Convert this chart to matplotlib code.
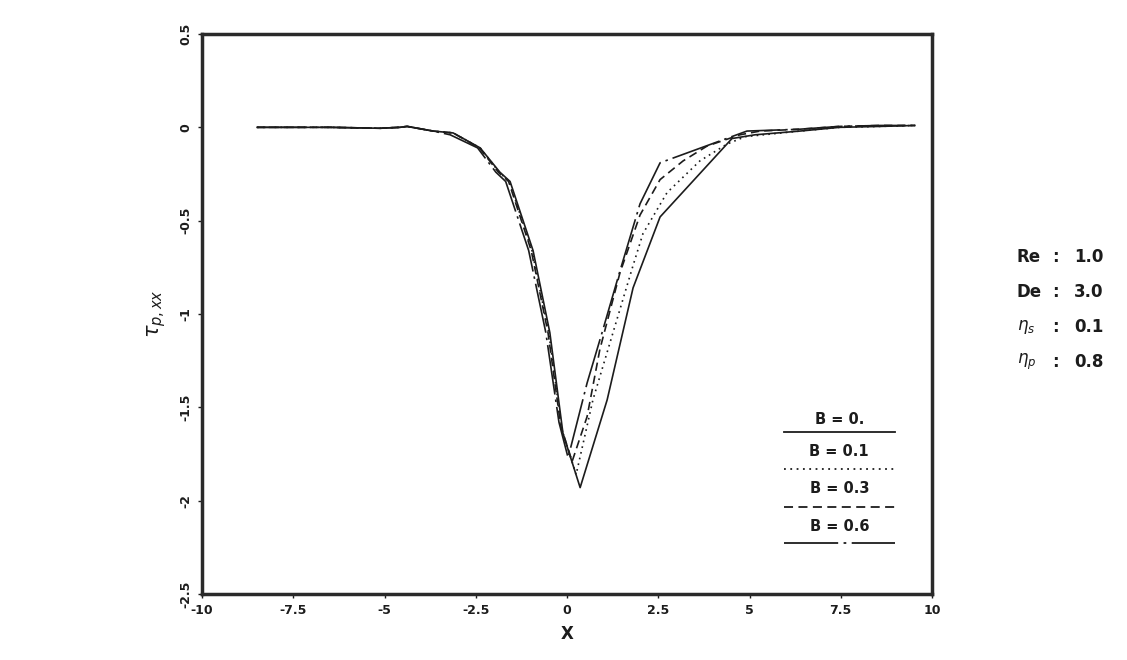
import matplotlib.pyplot as plt

plt.rcParams['font.family'] = ['DejaVu Sans']
plt.rcParams['axes.unicode_minus'] = False

# B = 0.
x_b0 = [-8.49, -6.49, -5.12, -4.58, -4.38, -3.67, -3.12, -2.38, -1.84, -1.56, -0.93, -0.47, -0.11,
        0.36, 1.10, 1.81, 2.55, 4.52, 5.15, 6.38, 7.47, 8.58, 9.53]
y_b0 = [0.0, 0.0, -0.005, 0.0, 0.005, -0.02, -0.03, -0.11, -0.24, -0.29, -0.66, -1.10, -1.64,
        -1.93, -1.46, -0.86, -0.48, -0.06, -0.04, -0.02, 0.0, 0.005, 0.01]

# B = 0.1
x_b1 = [-8.49, -6.49, -5.12, -4.58, -4.38, -3.67, -3.12, -2.38, -1.86, -1.58, -0.96, -0.50, -0.14,
        0.25, 0.71, 1.26, 1.81, 2.08, 2.74, 3.64, 4.38, 4.88, 6.38, 7.47, 8.58, 9.53]
y_b1 = [0.0, 0.0, -0.005, 0.0, 0.005, -0.02, -0.03, -0.11, -0.24, -0.29, -0.66, -1.10, -1.62,
        -1.86, -1.46, -1.10, -0.74, -0.57, -0.35, -0.18, -0.09, -0.05, -0.02, 0.0, 0.005, 0.01]

# B = 0.3
x_b3 = [-8.49, -6.49, -5.12, -4.58, -4.38, -3.67, -3.12, -2.40, -1.88, -1.60, -0.98, -0.52, -0.17,
        0.14, 0.55, 0.90, 1.45, 2.00, 2.55, 3.18, 3.84, 4.74, 5.29, 6.38, 7.47, 8.58, 9.53]
y_b3 = [0.0, 0.0, -0.005, 0.0, 0.005, -0.02, -0.03, -0.11, -0.24, -0.29, -0.66, -1.10, -1.60,
        -1.79, -1.55, -1.19, -0.78, -0.47, -0.28, -0.18, -0.10, -0.04, -0.02, -0.01, 0.005, 0.01, 0.01]

# B = 0.6
x_b6 = [-8.49, -6.49, -5.12, -4.58, -4.38, -3.67, -3.20, -2.45, -1.95, -1.68, -1.05, -0.58, -0.22,
        0.03, 0.55, 0.96, 1.45, 2.00, 2.55, 4.93, 6.38, 7.47, 8.58, 9.53]
y_b6 = [0.0, 0.0, -0.005, 0.0, 0.005, -0.02, -0.04, -0.11, -0.24, -0.29, -0.66, -1.10, -1.58,
        -1.77, -1.37, -1.10, -0.77, -0.41, -0.19, -0.02, -0.01, 0.005, 0.01, 0.01]

labels = ['B = 0.', 'B = 0.1', 'B = 0.3', 'B = 0.6']
xticks = [-10, -7.5, -5, -2.5, 0, 2.5, 5, 7.5, 10]
xtick_labels = ['-10', '-7.5', '-5', '-2.5', '0', '2.5', '5', '7.5', '10']
yticks = [0.5, 0, -0.5, -1, -1.5, -2, -2.5]
ytick_labels = ['0.5', '0', '-0.5', '-1', '-1.5', '-2', '-2.5']
params = [('Re', '1.0'), ('De', '3.0'), (r'$\eta_s$', '0.1'), (r'$\eta_p$', '0.8')]

ink = '#1c1c1c'
fig = plt.figure(figsize=(11.27, 6.6), dpi=100)
ax = fig.add_axes([202 / 1127, 1 - 594 / 660, 730 / 1127, 560 / 660])

styles = [dict(ls='-'),
          dict(ls=(0, (1, 2.5))),
          dict(ls=(0, (5, 3))),
          dict(ls=(0, (30, 3, 1.5, 3)))]
series = [(x_b0, y_b0), (x_b1, y_b1), (x_b3, y_b3), (x_b6, y_b6)]
for (xs, ys), st in zip(series, styles):
    ax.plot(xs, ys, color=ink, lw=1.2, **st)

ax.set_xlim(-10, 10)
ax.set_ylim(-2.5, 0.5)
ax.set_xticks(xticks)
ax.set_xticklabels(xtick_labels)
ax.set_yticks(yticks)
ax.set_yticklabels(ytick_labels, rotation=90, va='center')
ax.tick_params(direction='out', length=3, width=1, colors=ink, labelsize=9, pad=4)
for lab in ax.get_xticklabels() + ax.get_yticklabels():
    lab.set_fontweight('bold')
for sp in ax.spines.values():
    sp.set_linewidth(2.5)
    sp.set_color('#2a2a2a')

ax.set_xlabel('X', fontsize=12, fontweight='bold', color=ink, labelpad=6)
ax.set_ylabel(r'$\tau_{p,xx}$', fontsize=15, color=ink, labelpad=8)

# legend: label above a sample line
leg_y_text = [0.3125, 0.2536, 0.189, 0.121]
leg_y_line = [0.289, 0.223, 0.155, 0.0911]
for lab, st, yt, yl in zip(labels, styles, leg_y_text, leg_y_line):
    ax.text(0.873, yt, lab, transform=ax.transAxes, ha='center', va='center',
            fontsize=10.5, fontweight='bold', color=ink)
    ax.plot([0.797, 0.949], [yl, yl], transform=ax.transAxes, color=ink, lw=1.3, **st)

# parameter block at right
for i, (name, val) in enumerate(params):
    ypix = 257 + i * 35
    fig.text(1017 / 1127, 1 - ypix / 660, name, ha='left', va='center',
             fontsize=12, fontweight='bold', color=ink)
    fig.text(1055 / 1127, 1 - ypix / 660, ':', ha='center', va='center',
             fontsize=12, fontweight='bold', color=ink)
    fig.text(1074 / 1127, 1 - ypix / 660, val, ha='left', va='center',
             fontsize=12, fontweight='bold', color=ink)

fig.savefig('out.png', dpi=100)
